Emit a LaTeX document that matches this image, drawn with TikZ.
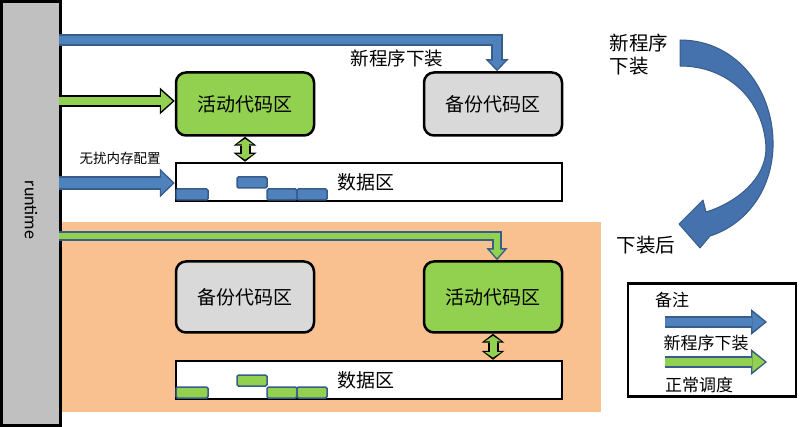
\documentclass[tikz,border=0pt]{standalone}
\usepackage{fontspec}
\setmainfont{Noto Sans CJK SC}
\newfontfamily\runtimefont{Carlito}
\usetikzlibrary{arrows.meta}

\definecolor{runtimegray}{HTML}{C0C0C0}
\definecolor{backupgray}{HTML}{D9D9D9}
\definecolor{activegreen}{HTML}{92D050}
\definecolor{arrowblue}{HTML}{4F81BD}
\definecolor{arrowedge}{HTML}{385D8A}
\definecolor{afterorange}{HTML}{F9C18F}
\definecolor{curveblue}{HTML}{4572AD}

%% block arrow: fill, edge, shaft, head width, head length, path
\newcommand{\blockarrow}[6]{%
  \pgfmathsetlengthmacro{\innershaft}{#3-4pt}%
  \pgfmathsetlengthmacro{\innerheadw}{#4-6.5pt}%
  \pgfmathsetlengthmacro{\innerheadl}{#5-3.5pt}%
  \draw[line width=#3, draw=#2, line join=miter,
    -{Triangle[width=#4, length=#5, line width=0pt]}] #6;
  \draw[line width=\innershaft, draw=#1, line join=miter, shorten >=2.2pt,
    -{Triangle[width=\innerheadw, length=\innerheadl, line width=0pt]}] #6;
}
%% same with heads on both ends
\newcommand{\twowayarrow}[6]{%
  \pgfmathsetlengthmacro{\innershaft}{#3-4pt}%
  \pgfmathsetlengthmacro{\innerheadw}{#4-6.5pt}%
  \pgfmathsetlengthmacro{\innerheadl}{#5-3.5pt}%
  \draw[line width=#3, draw=#2,
    {Triangle[width=#4, length=#5, line width=0pt]}-{Triangle[width=#4, length=#5, line width=0pt]}] #6;
  \draw[line width=\innershaft, draw=#1, shorten >=2.2pt, shorten <=2.2pt,
    {Triangle[width=\innerheadw, length=\innerheadl, line width=0pt]}-{Triangle[width=\innerheadw, length=\innerheadl, line width=0pt]}] #6;
}

\begin{document}
\begin{tikzpicture}
[x=1pt, y=-1pt,
  codebox/.style={draw, line width=2.5pt, rounded corners=10pt,
    minimum width=138pt, font=\fontsize{19}{19}\selectfont},
  activebox/.style={codebox, fill=activegreen},
  backupbox/.style={codebox, fill=backupgray},
  databox/.style={draw, line width=2.5pt, fill=white, minimum width=386pt,
    minimum height=38pt},
  datalabel/.style={font=\fontsize{19}{19}\selectfont},
  smalltext/.style={font=\fontsize{13.5}{13.5}\selectfont},
  midtext/.style={font=\fontsize{17}{17}\selectfont},
  bigtext/.style={font=\fontsize{19.5}{23}\selectfont},
  memblock/.style={draw=arrowedge, line width=1.5pt, rounded corners=1.5pt},
  curvearrow/.style={fill=curveblue, draw=arrowedge, line width=1pt, line join=round}]
\useasboundingbox (0,0) rectangle (800,427);

%% background of the state after loading
\fill[afterorange] (62,222) rectangle (601,412);

%% code and data areas
\node (active1) at (245,104) [activebox, minimum height=63pt] {活动代码区};
\node (backup1) at (493,104) [backupbox, minimum height=63pt] {备份代码区};
\node (data1) at (369,182) [databox] {};
\node (datatext1) at (366,182) [datalabel] {数据区};
\node (backup2) at (245,297) [backupbox, minimum height=71pt] {备份代码区};
\node (active2) at (493,297) [activebox, minimum height=71pt] {活动代码区};
\node (data2) at (369,380) [databox] {};
\node (datatext2) at (366,380) [datalabel] {数据区};

%% occupied memory blocks
\foreach \xa/\ya/\xb/\yb in {176/189/208/200, 237/177/267/188,
  267/189/297/200, 297/189/327/200} {
  \draw[memblock, fill=arrowblue] (\xa,\ya) rectangle (\xb,\yb);
  \draw[memblock, fill=activegreen] (\xa,\ya+198) rectangle (\xb,\yb+198);
}

%% runtime bar
\node (runtime) at (31,213.5) [draw, line width=2.5pt, fill=runtimegray,
  minimum width=59pt, minimum height=424pt] {};
\node (runtimelabel) at (31,210) [rotate=-90, font=\runtimefont\fontsize{18}{18}\selectfont] {runtime};

%% arrows from runtime
\blockarrow{arrowblue}{arrowedge}{12pt}{23pt}{12pt}
  {([xshift=-3pt]runtime.east |- 0,40) -| ([xshift=4pt]backup1.north)}
\blockarrow{activegreen}{black}{12pt}{27pt}{15pt}
  {([xshift=-3pt]runtime.east |- 0,101) -- (active1.west |- 0,101)}
\blockarrow{arrowblue}{arrowedge}{14pt}{29pt}{15pt}
  {([xshift=-3pt]runtime.east |- 0,183) -- (data1.west |- 0,183)}
\blockarrow{activegreen}{arrowedge}{10pt}{21pt}{12pt}
  {([xshift=-3pt]runtime.east |- 0,236) -| ([xshift=4pt]active2.north)}
\twowayarrow{activegreen}{black}{11pt}{23pt}{9pt}
  {(active1.south) -- (active1.south |- data1.north)}
\twowayarrow{activegreen}{black}{11pt}{23pt}{9pt}
  {(active2.south) -- (active2.south |- data2.north)}

\node (loadlabel) at (397,58) [font=\fontsize{18.5}{18.5}\selectfont] {新程序下装};
\node (configlabel) at (120,158) [smalltext] {无扰内存配置};

%% loading turns one state into the other
\draw[curvearrow] (680,40) .. controls (738,40) and (775,92) .. (773,148)
  .. controls (771,195) and (742,226) .. (710,236)
  -- (700,248) -- (679,224) -- (703,200) -- (706,212)
  .. controls (738,202) and (766,178) .. (766,148)
  .. controls (764,100) and (728,66) .. (680,66) -- cycle;
\node (newload) at (606,55) [anchor=west, align=left, bigtext] {新程序\\下装};
\node (afterload) at (646,245) [bigtext] {下装后};

%% legend
\node (legend) at (712,340) [draw, line width=2.5pt, minimum width=168pt,
  minimum height=113pt] {};
\node (notelabel) at (672,300) [midtext] {备注};
\coordinate (bluestart) at (665,322);
\coordinate (blueend) at (767,322);
\coordinate (greenstart) at (665,362);
\coordinate (greenend) at (767,362);
\blockarrow{arrowblue}{arrowedge}{12pt}{26pt}{16pt}{(bluestart) -- (blueend)}
\blockarrow{activegreen}{arrowedge}{12pt}{26pt}{16pt}{(greenstart) -- (greenend)}
\node (bluelabel) at (706,343) [midtext] {新程序下装};
\node (greenlabel) at (699,385) [midtext] {正常调度};
\end{tikzpicture}
\end{document}
